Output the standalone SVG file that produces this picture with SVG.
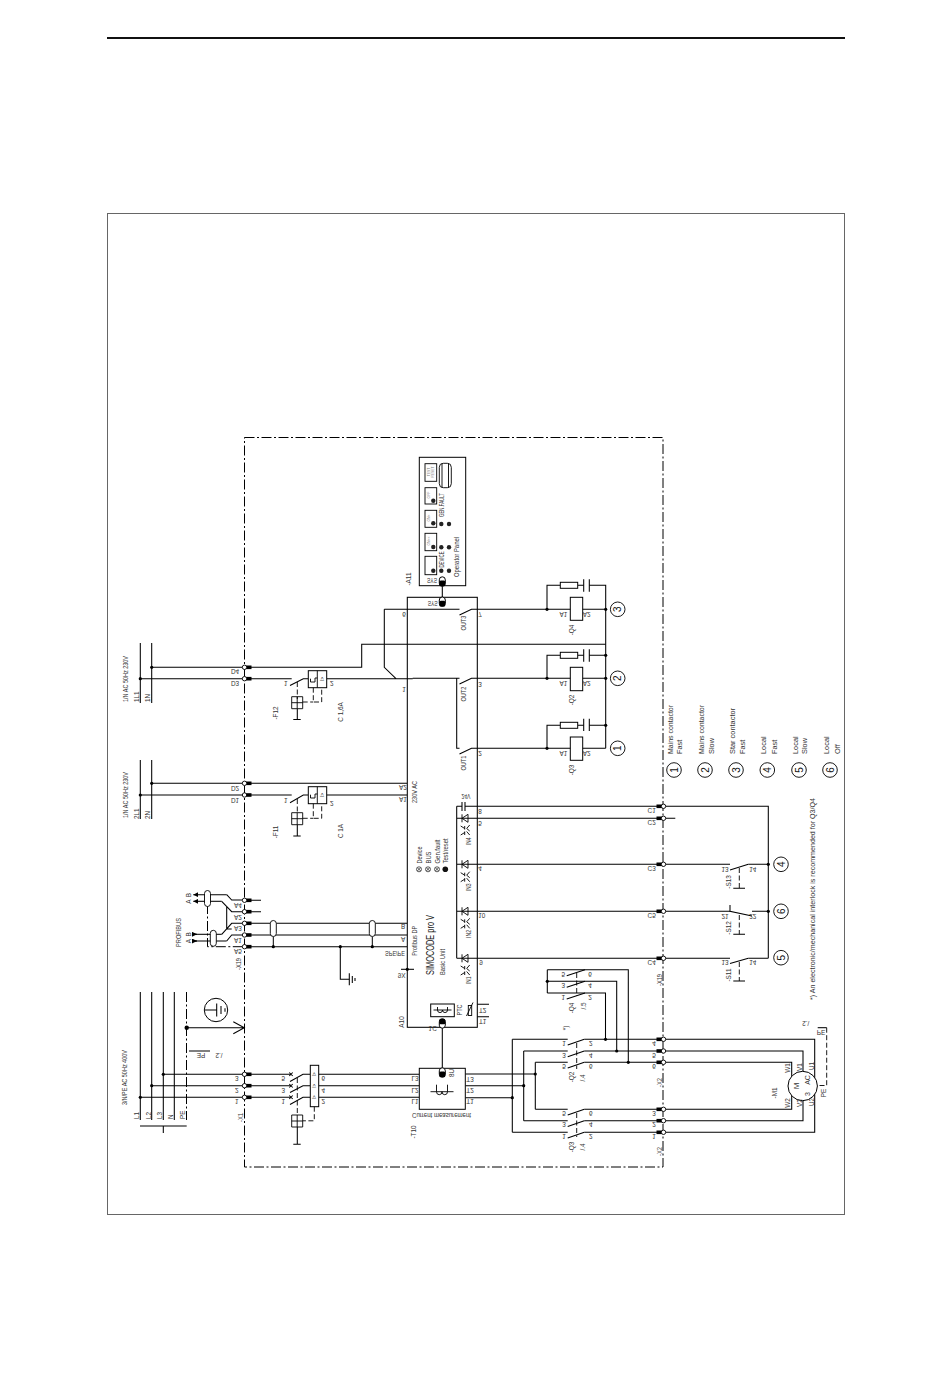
<svg xmlns="http://www.w3.org/2000/svg" width="950" height="1379" viewBox="0 0 950 1379">
<style>
.w{fill:none;stroke:#000;stroke-width:1.05}
.b{fill:#fff;stroke:#000;stroke-width:1}
.o{fill:none;stroke:#000;stroke-width:.9}
.d{fill:none;stroke:#000;stroke-width:.9;stroke-dasharray:5 2.5}
.dd{fill:none;stroke:#000;stroke-width:1;stroke-dasharray:10 2.5 2 2.5}
text{font-family:"Liberation Sans",Arial,sans-serif;font-size:6.4px;fill:#333;dominant-baseline:central}
.m{text-anchor:middle}
.l{font-size:7.4px}
.c{font-size:10px;text-anchor:middle;fill:#111}
.xs{font-size:3.4px;fill:#777}
</style>
<defs>
<g id="tl"><rect x="1" y="-1.8" width="6" height="3.6" fill="#000"/><circle r="2.2" fill="#fff" stroke="#000" stroke-width=".9"/></g>
<g id="tr"><rect x="-7" y="-1.8" width="6" height="3.6" fill="#000"/><circle r="2.2" fill="#fff" stroke="#000" stroke-width=".9"/></g>
<g id="pill"><rect x="-3" y="-4.7" width="6" height="9.4" rx="3" fill="#fff" stroke="#000"/><rect x="-3" y="-4.7" width="6" height="5.5" rx="1.5" fill="#000"/></g>
<g id="pilld"><rect x="-3" y="-4.7" width="6" height="9.4" rx="3" fill="#fff" stroke="#000"/><rect x="-3" y="-1" width="6" height="5.7" rx="1.5" fill="#000"/></g>
<circle id="dot" r="1.6" fill="#000"/>
<circle id="num" r="7.3" fill="#fff" stroke="#000" stroke-width=".9"/>
<path id="dio" d="M-3-4V4M-3 0 3-4V4Z" fill="none" stroke="#000" stroke-width=".9"/>
<path id="opto" d="M-5-4-1-1.5M-1-4V-.5M-5 5-1 2.5M-1 5V1.5M4-5 1-1.5 4 1M4 5 1 1.5" fill="none" stroke="#000" stroke-width=".9"/>
<path id="trf" d="M-11.5 0H11.5M-5.5-7V0M5.5-7V0M-5.5 0a2.75 3 0 0 0 5.5 0a2.75 3 0 0 0 5.5 0" fill="none" stroke="#000" stroke-width=".9"/>
<path id="trf2" d="M-9 0H9M-5-3V0M5-3V0M-5 0a2.5 2.6 0 0 0 5 0a2.5 2.6 0 0 0 5 0" fill="none" stroke="#000" stroke-width=".9"/>
<path id="trip" d="M0 0H11V12H0ZM5.5 0V12M0 6H11" fill="none" stroke="#000" stroke-width=".9"/>
<g id="shield"><rect x="-3" y="-8" width="6" height="16" rx="3" fill="#fff" stroke="#000" stroke-width=".9"/></g>
<marker id="ah" markerUnits="userSpaceOnUse" markerWidth="6" markerHeight="5" refX="5" refY="2.5" orient="auto"><path d="M0 0 5 2.5 0 5Z" fill="#000"/></marker>
</defs>
<rect width="950" height="1379" fill="#fff"/>
<g id="page-frame">
<path d="M107 38H845" stroke="#111" stroke-width="2" fill="none"/>
<rect x="107.500" y="213.500" width="737" height="1001" fill="none" stroke="#666" stroke-width="1"/>
<rect x="244.500" y="437.500" width="418.500" height="729.500" class="dd"/>
</g>
<g id="connectors">
<path class="w" d="M140.300 643V703M151.700 643V703M140.300 760V819M151.700 760V819M140.300 992V1120M151.700 992V1120M163.300 992V1120M174.300 992V1120M140 1126H186.700M163.300 1126V1133"/>
<path class="dd" d="M186.500 992V1120"/>
<path class="w" d="M151.700 667.300H361.700V644.300H605.700M140.300 678.700H291.700M326.700 678.700H412.700M384.300 609.300V667.300L396 678.700M384.300 609.300H459.500M477.300 609.300H605.700M412.700 678.300H459.500M477.300 678.300H605.700M456.700 678.300V748.300H459.500M477.300 748.300H605.700"/>
<path class="w" d="M547 609.300V585.300H560.300M577.700 585.300H583.700M589.300 585.300H605.700V748.300M547 678.300V655.300H560.300M577.700 655.300H583.700M589.300 655.300H605.700M547 748.300V725.300H560.300M577.700 725.300H583.700M589.300 725.300H605.700"/>
<path class="w" d="M151.700 783.300H407M140.300 795H291.700M326.700 795H407"/>
<path class="w" d="M250 900.300H261M250 911.700H261M250 923.300H407M250 935H407M250 946.700H407M340.300 946.700V979.300H349.300"/>
<path class="w" d="M226.700 894.700L231.700 900H243M221.700 901.300L231.700 911.700H243M221.700 934.300L231.700 923.300H243M226.700 941L231.700 935H243M226.700 906.500V929H231.700M226.700 906.500L231.700 911.700"/>
<path class="w" d="M226.700 894.700H193.300" marker-end="url(#ah)"/><path class="w" d="M221.700 901.300H193.300" marker-end="url(#ah)"/>
<path class="w" d="M193 934.300H221.700" /><path class="w" d="M193 941H226.700"/>
<path class="w" d="M193 934.300H197" marker-end="url(#ah)"/><path class="w" d="M193 941H197" marker-end="url(#ah)"/>
<path class="dd" d="M207.500 904V946.700H244M273.300 936.700V946.700M372.300 936.700V946.700"/>
<path class="w" d="M186.700 1027.700H244M233.300 1021.700 244.300 1027.700 233.300 1033.700M189 1051H210"/>
<path class="w" d="M163.300 1074.300H291M151.700 1085.700H291M140.300 1097.300H291M318.700 1074.300H419.300M318.700 1085.700H419.300M318.700 1097.300H419.300M442.300 586V597M442.300 1028V1068"/>
<path class="w" d="M465.300 1097.700H512.300M465.300 1085.700H523.700M465.300 1074H535.300M512.300 1039.300V1132.300M523.700 1051V1120.700M535.300 1062.300V1109.300"/>
<path class="w" d="M512.300 1039.300H567.700M523.700 1051H567.700M535.300 1062.300H567.700M535.300 1109.300H567.700M523.700 1120.700H567.700M512.300 1132.300H567.700M584.300 1039.300H814.700V1132.300H584.300M584.300 1051H803V1120.700H584.300M584.300 1062.300H791.700V1109.300H584.300"/>
<path class="w" d="M547.300 969.700V993M547.300 969.700H628.300V1062.300M547.300 981.300H616.700V1051M547.300 993H605.500V1039.300"/>
<path class="w" d="M477.300 806.300H768.300V958.300M477.300 818.300H675.300M477.300 864.300H730M477.300 911.300H730M477.300 958.300H730M748.300 864.300H768.300M752 911.300H768.300M748.300 958.300H768.300"/>
<path class="w" d="M456.700 806.300V958.300M456.700 806.300H462M465 806.300H477.300M456.700 818.300H477.300M456.700 864.300H477.300M456.700 911.300H477.300M456.700 958.300H477.300M477.300 1004.300H489M477.300 1016.700H489"/>
<path class="d" d="M826.700 1027.700V1085.500H817.500"/><path class="w" d="M817.700 1027.700H826.700"/>
</g>
<g id="terminals">
<use href="#tl" x="244.500" y="667.300"/><use href="#tl" x="244.500" y="678.700"/><use href="#tl" x="244.500" y="783.300"/><use href="#tl" x="244.500" y="795"/>
<use href="#tl" x="244.500" y="900.300"/><use href="#tl" x="244.500" y="911.700"/><use href="#tl" x="244.500" y="923.300"/><use href="#tl" x="244.500" y="935"/><use href="#tl" x="244.500" y="946.700"/>
<use href="#tl" x="244.500" y="1074.300"/><use href="#tl" x="244.500" y="1085.700"/><use href="#tl" x="244.500" y="1097.300"/>
<use href="#tr" x="663.500" y="806.300"/><use href="#tr" x="663.500" y="818.300"/><use href="#tr" x="663.500" y="864.300"/><use href="#tr" x="663.500" y="911.300"/><use href="#tr" x="663.500" y="958.300"/>
<use href="#tr" x="663.500" y="1039.300"/><use href="#tr" x="663.500" y="1051"/><use href="#tr" x="663.500" y="1062.300"/><use href="#tr" x="663.500" y="1109.300"/><use href="#tr" x="663.500" y="1120.700"/><use href="#tr" x="663.500" y="1132.300"/>
<text class="m" transform="translate(235 671.700) scale(1 -1)">D4</text><text class="m" transform="translate(235 683) scale(1 -1)">D3</text><text class="m" transform="translate(235 788) scale(1 -1)">D2</text><text class="m" transform="translate(235 800) scale(1 -1)">D1</text>
<text class="m" transform="translate(238 905) scale(1 -1)">A4</text><text class="m" transform="translate(238 917) scale(1 -1)">A2</text><text class="m" transform="translate(238 928.500) scale(1 -1)">A3</text><text class="m" transform="translate(238 940) scale(1 -1)">A1</text><text class="m" transform="translate(238 951.500) scale(1 -1)">A5</text>
<text transform="translate(238.500 970) rotate(-90)" textLength="12" lengthAdjust="spacingAndGlyphs">-X19</text>
<text class="m" transform="translate(236.700 1078.500) scale(1 -1)">3</text><text class="m" transform="translate(236.700 1090) scale(1 -1)">2</text><text class="m" transform="translate(236.700 1101.700) scale(1 -1)">1</text>
<text transform="translate(240 1122) rotate(-90)" textLength="9" lengthAdjust="spacingAndGlyphs">-X1</text>
<text class="m" transform="translate(651.700 810.700) scale(1 -1)">C1</text><text class="m" transform="translate(651.700 822.700) scale(1 -1)">C2</text><text class="m" transform="translate(651.700 868.700) scale(1 -1)">C3</text><text class="m" transform="translate(651.700 915.700) scale(1 -1)">C5</text><text class="m" transform="translate(651.700 962.700) scale(1 -1)">C4</text>
<text transform="translate(659.300 986) rotate(-90)" textLength="12" lengthAdjust="spacingAndGlyphs">-X19</text>
<text class="m" transform="translate(654 1043.300) scale(1 -1)">4</text><text class="m" transform="translate(654 1055) scale(1 -1)">5</text><text class="m" transform="translate(654 1066.700) scale(1 -1)">6</text><text class="m" transform="translate(654 1113.300) scale(1 -1)">3</text><text class="m" transform="translate(654 1124.700) scale(1 -1)">2</text><text class="m" transform="translate(654 1136.700) scale(1 -1)">1</text>
<text transform="translate(659 1087) rotate(-90)" textLength="9" lengthAdjust="spacingAndGlyphs">-X2</text><text transform="translate(659 1156) rotate(-90)" textLength="9" lengthAdjust="spacingAndGlyphs">-X2</text>
</g>
<g id="supply-labels">
<text transform="translate(125.700 702) rotate(-90)" textLength="46" lengthAdjust="spacingAndGlyphs">1/N AC 50Hz 230V</text><text transform="translate(136.700 702) rotate(-90)">1L1</text><text transform="translate(147.700 702) rotate(-90)">1N</text>
<text transform="translate(125.700 818) rotate(-90)" textLength="46" lengthAdjust="spacingAndGlyphs">1/N AC 50Hz 230V</text><text transform="translate(136.700 819) rotate(-90)">2L1</text><text transform="translate(147.700 819) rotate(-90)">2N</text>
<text transform="translate(124 1105) rotate(-90)" textLength="55" lengthAdjust="spacingAndGlyphs">3/N/PE AC 50Hz 400V</text>
<text transform="translate(136.700 1119) rotate(-90)">L1</text><text transform="translate(148 1119) rotate(-90)">L2</text><text transform="translate(159.700 1119) rotate(-90)">L3</text><text transform="translate(170.700 1119) rotate(-90)">N</text><text transform="translate(182.700 1119) rotate(-90)">PE</text>
<text class="m" transform="translate(201 1055) rotate(180)">PE</text><text class="m" transform="translate(219 1055.700) rotate(180)">/.2</text>
<text transform="translate(178.300 947) rotate(-90)" textLength="29" lengthAdjust="spacingAndGlyphs">PROFIBUS</text>
<text class="m" transform="translate(188.300 895) rotate(-90)">B</text><text class="m" transform="translate(188.300 901.500) rotate(-90)">A</text><text class="m" transform="translate(188.300 934.300) rotate(-90)">B</text><text class="m" transform="translate(188.300 941) rotate(-90)">A</text>
</g>
<g id="shields">
<use href="#shield" x="207.500" y="898.500"/><use href="#shield" x="213.300" y="938.300"/><use href="#shield" x="273.300" y="928.500"/><use href="#shield" x="372.300" y="928.500"/>
<use href="#dot" x="273.300" y="946.700"/><use href="#dot" x="372.300" y="946.700"/><use href="#dot" x="340.300" y="946.700"/>
</g>
<g id="earth-sym"><path class="w" d="M349.300 973.300V985.300M352.300 976V983M355 978V981"/></g>
<g id="pe-earth">
<circle cx="216" cy="1010" r="11.700" class="b"/>
<path class="w" d="M205 1010H216.500M216.700 1003.500V1016.500M221 1006V1014M225 1008.300V1011.700"/>
<circle cx="186.700" cy="1027.700" r="2.200" fill="#000"/>
</g>
<g id="bus-dots">
<use href="#dot" x="151.700" y="667.300"/><use href="#dot" x="140.300" y="678.700"/><use href="#dot" x="151.700" y="783.300"/><use href="#dot" x="140.300" y="795"/>
<use href="#dot" x="163.300" y="1074.300"/><use href="#dot" x="151.700" y="1085.700"/><use href="#dot" x="140.300" y="1097.300"/>
<use href="#dot" x="535.300" y="1074"/><use href="#dot" x="523.700" y="1085.700"/><use href="#dot" x="512.300" y="1097.700"/>
<use href="#dot" x="605.500" y="1039.300"/><use href="#dot" x="616.700" y="1051"/><use href="#dot" x="628.300" y="1062.300"/><use href="#dot" x="547.300" y="981.300"/>
<use href="#dot" x="547" y="609.300"/><use href="#dot" x="547" y="678.300"/><use href="#dot" x="547" y="748.300"/><use href="#dot" x="605.700" y="609.300"/><use href="#dot" x="605.700" y="678.300"/><use href="#dot" x="605.700" y="655.300"/><use href="#dot" x="605.700" y="725.300"/>
<use href="#dot" x="768.300" y="864.300"/><use href="#dot" x="768.300" y="911.300"/>
</g>
<g id="F12">
<path class="w" d="M290 685.500 303.300 678.700H308.300"/>
<rect x="308.300" y="670.700" width="18.400" height="17" class="b"/><path class="o" d="M317.300 670.700V687.700M310.500 678.700V682H315V678H317.300"/>
<text class="m" transform="translate(322 679) rotate(-90)" style="font-size:5px">I&gt;</text>
<path class="d" d="M297.300 682V699M313.300 687.700V702H321.700V687.700M302.700 702H313.300"/><use href="#trip" x="291.700" y="696.700"/><path class="w" d="M297.300 708.700V719.500M293.300 719.500H300.700"/>
<text class="m" transform="translate(285.700 683) scale(1 -1)">1</text><text class="m" transform="translate(331.700 683) scale(1 -1)">2</text>
<text class="m" transform="translate(275.700 713) rotate(-90)">-F12</text><text class="m" transform="translate(340 712) rotate(-90)">C 1,6A</text>
</g>
<g id="F11">
<path class="w" d="M290 802.700 303.300 795H308.300"/>
<rect x="308.300" y="786.700" width="18.400" height="17" class="b"/><path class="o" d="M317.300 786.700V803.700M310.500 794.700V798H315V794H317.300"/>
<text class="m" transform="translate(322 795) rotate(-90)" style="font-size:5px">I&gt;</text>
<path class="d" d="M297.300 799V813M313.300 803.700V818.300H321.700V803.700M302.700 818.300H313.300"/><use href="#trip" x="291.700" y="812.700"/><path class="w" d="M297.300 824.700V836M293.300 836H300.700"/>
<text class="m" transform="translate(285.700 800) scale(1 -1)">1</text><text class="m" transform="translate(331.700 803) scale(1 -1)">2</text>
<text class="m" transform="translate(275.700 832) rotate(-90)">-F11</text><text class="m" transform="translate(340 831) rotate(-90)">C 1A</text>
</g>
<g id="Q1">
<path class="w" d="M290 1081.500 303 1074.300H310M290 1092.500 303 1085.700H310M290 1104.500 303 1097.300H310M289.300 1072.500 292.700 1076M292.700 1072.500 289.300 1076M289.300 1084 292.700 1087.500M292.700 1084 289.300 1087.500M289.300 1095.500 292.700 1099M292.700 1095.500 289.300 1099"/>
<rect x="310.300" y="1065.300" width="8.400" height="41.400" class="b"/>
<text class="m" transform="translate(314.500 1074.300) rotate(-90)" style="font-size:4.500px">I&gt;</text><text class="m" transform="translate(314.500 1085.700) rotate(-90)" style="font-size:4.500px">I&gt;</text><text class="m" transform="translate(314.500 1097.300) rotate(-90)" style="font-size:4.500px">I&gt;</text>
<path class="d" d="M297.300 1078V1115M314.300 1106.700V1120.800H302.700"/><use href="#trip" x="291.700" y="1115"/><path class="w" d="M297.300 1127V1144.300M293.300 1144.300H300.700"/>
<text class="m" transform="translate(283.300 1078.300) scale(1 -1)">5</text><text class="m" transform="translate(283.300 1090) scale(1 -1)">3</text><text class="m" transform="translate(283.300 1101.700) scale(1 -1)">1</text>
<text class="m" transform="translate(323.300 1078.300) scale(1 -1)">6</text><text class="m" transform="translate(323.300 1090) scale(1 -1)">4</text><text class="m" transform="translate(323.300 1101.700) scale(1 -1)">2</text>
</g>
<g id="A10">
<rect x="407.300" y="597.300" width="70" height="430" fill="none" stroke="#000" stroke-width="1.050"/>
<use href="#pilld" x="442.300" y="601.700"/><use href="#pill" x="442.300" y="1023.500"/>
<text class="m" transform="translate(432.700 603.300) scale(1 -1)" textLength="10" lengthAdjust="spacingAndGlyphs">SYS</text>
<text class="m" transform="translate(404 614) scale(1 -1)">6</text><text class="m" transform="translate(480 614) scale(1 -1)">7</text>
<path class="w" d="M459.500 615 471.500 609.300H477.300M459.500 684 471.500 678.300H477.300M459.500 754 471.500 748.300H477.300"/>
<text class="m" transform="translate(404 689) scale(1 -1)">1</text><text class="m" transform="translate(480 684) scale(1 -1)">3</text><text class="m" transform="translate(480 753) scale(1 -1)">2</text>
<text class="m" transform="translate(463 623) rotate(-90)" textLength="15" lengthAdjust="spacingAndGlyphs">OUT3</text><text class="m" transform="translate(463 694) rotate(-90)" textLength="15" lengthAdjust="spacingAndGlyphs">OUT2</text><text class="m" transform="translate(463 763) rotate(-90)" textLength="15" lengthAdjust="spacingAndGlyphs">OUT1</text>
<text class="m" transform="translate(403 787.700) scale(1 -1)">A2</text><text class="m" transform="translate(403 799) scale(1 -1)">A1</text>
<text transform="translate(414 803) rotate(-90)" textLength="22" lengthAdjust="spacingAndGlyphs">230V AC</text>
<text class="m" transform="translate(466 796.700) scale(1 -1)" textLength="9" lengthAdjust="spacingAndGlyphs">24V</text>
<path class="w" d="M462 802V811M465 802V811"/>
<use href="#dio" x="465" y="818.300"/><use href="#dio" x="465" y="864.300"/><use href="#dio" x="465" y="911.300"/><use href="#dio" x="465" y="958.300"/>
<use href="#opto" x="465.700" y="830"/><use href="#opto" x="465.700" y="876.700"/><use href="#opto" x="465.700" y="923.300"/><use href="#opto" x="465.700" y="970"/>
<text class="m" transform="translate(468.300 841.500) rotate(-90)" textLength="8" lengthAdjust="spacingAndGlyphs">IN4</text><text class="m" transform="translate(468.300 887.500) rotate(-90)" textLength="8" lengthAdjust="spacingAndGlyphs">IN3</text><text class="m" transform="translate(468.300 934) rotate(-90)" textLength="8" lengthAdjust="spacingAndGlyphs">IN2</text><text class="m" transform="translate(468.300 980.500) rotate(-90)" textLength="8" lengthAdjust="spacingAndGlyphs">IN1</text>
<text class="m" transform="translate(480 811.700) scale(1 -1)">8</text><text class="m" transform="translate(480 823.300) scale(1 -1)">5</text><text class="m" transform="translate(480 868.300) scale(1 -1)">4</text><text class="m" transform="translate(481.700 915.700) scale(1 -1)">10</text><text class="m" transform="translate(481 962.700) scale(1 -1)">9</text>
<g fill="none" stroke="#333" stroke-width=".8"><circle cx="419" cy="869.300" r="2.500"/><path d="M417.300 867.600 420.700 871M420.700 867.600 417.300 871"/><circle cx="428" cy="869.300" r="2.500"/><path d="M426.300 867.600 429.700 871M429.700 867.600 426.300 871"/><circle cx="437" cy="869.300" r="2.500"/><path d="M435.300 867.600 438.700 871M438.700 867.600 435.300 871"/></g>
<circle cx="445.300" cy="869.300" r="2.800" fill="#111"/>
<text transform="translate(419 863.500) rotate(-90)" textLength="17" lengthAdjust="spacingAndGlyphs">Device</text><text transform="translate(428 863.500) rotate(-90)" textLength="12" lengthAdjust="spacingAndGlyphs">BUS</text><text transform="translate(437 863.500) rotate(-90)" textLength="24" lengthAdjust="spacingAndGlyphs">Gen.fault</text><text transform="translate(445.300 863.500) rotate(-90)" textLength="25" lengthAdjust="spacingAndGlyphs">Test/reset</text>
<text transform="translate(414 955.700) rotate(-90)" textLength="30" lengthAdjust="spacingAndGlyphs">Profibus DP</text>
<text transform="translate(430 975) rotate(-90)" style="font-size:10.500px;fill:#222" textLength="60" lengthAdjust="spacingAndGlyphs">SIMOCODE pro V</text>
<text transform="translate(442.300 975) rotate(-90)" textLength="26" lengthAdjust="spacingAndGlyphs">Basic Unit</text>
<text class="m" transform="translate(395 953) scale(1 -1)" textLength="20" lengthAdjust="spacingAndGlyphs">SPE/PE</text>
<text class="m" transform="translate(403 926.700) scale(1 -1)">B</text><text class="m" transform="translate(403 939) scale(1 -1)">A</text>
<path class="w" d="M401 969.300H414"/><use href="#dot" x="407.300" y="969.300"/>
<text class="m" transform="translate(401.700 975) scale(1 -1)">9X</text>
<text class="m" transform="translate(401 1022) rotate(-90)">A10</text>
<text class="m" transform="translate(432.700 1028) scale(1 -1)">1C</text>
<rect x="430.700" y="1004" width="23.600" height="12.700" class="b"/><use href="#trf2" x="442.500" y="1010"/>
<text class="m" transform="translate(459.300 1010) rotate(-90)" textLength="11" lengthAdjust="spacingAndGlyphs">PTC</text>
<rect x="468.300" y="1005.500" width="3.400" height="10" class="o"/><path class="o" d="M466.500 1016 473 1002.500"/>
<text class="m" transform="translate(482.700 1010) scale(1 -1)">T2</text><text class="m" transform="translate(482.700 1021) scale(1 -1)">T1</text>
</g>
<g id="A11">
<rect x="419.300" y="457.300" width="46.400" height="128.400" fill="none" stroke="#000"/>
<g class="o"><rect x="425" y="463.700" width="11.700" height="17.600"/><rect x="425" y="487.700" width="11.700" height="16.300"/><rect x="425" y="510.300" width="11.700" height="17"/><rect x="425" y="533.300" width="11.700" height="17.400"/><rect x="425" y="556.300" width="11.700" height="18.400"/>
<rect x="439.300" y="463.300" width="12" height="24.400" rx="4"/><path d="M442 463.300V487.700M448.500 463.300V487.700"/></g>
<text class="m xs" transform="translate(428.500 472) rotate(-90)">TEST</text><text class="m xs" transform="translate(433 472) rotate(-90)">RESET</text>
<text class="m xs" transform="translate(428.500 495) rotate(-90)">OFF</text><text class="m xs" transform="translate(428.500 518) rotate(-90)">ON&lt;</text><text class="m xs" transform="translate(428.500 541) rotate(-90)">ON&lt;&lt;</text>
<g fill="#222"><circle cx="433.300" cy="500.700" r="2.200"/><circle cx="433.300" cy="523.300" r="2.200"/><circle cx="441.300" cy="524" r="2.200"/><circle cx="449" cy="524" r="2.200"/><circle cx="433.300" cy="547" r="2.200"/><circle cx="441.300" cy="547.300" r="2.200"/><circle cx="449" cy="547.300" r="2.200"/><circle cx="433.300" cy="570.700" r="2.200"/><circle cx="441.300" cy="570.700" r="2.200"/><circle cx="449" cy="570.700" r="2.200"/></g>
<text transform="translate(441.300 517) rotate(-90)" textLength="24" lengthAdjust="spacingAndGlyphs">GEN.FAULT</text><text transform="translate(441.300 567.500) rotate(-90)" textLength="16" lengthAdjust="spacingAndGlyphs">DEVICE</text>
<text transform="translate(456.700 577) rotate(-90)" textLength="40" lengthAdjust="spacingAndGlyphs">Operator Panel</text>
<text class="m" transform="translate(432 580.700) scale(1 -1)" textLength="10" lengthAdjust="spacingAndGlyphs">SYS</text>
<use href="#pilld" x="442.300" y="581.500"/>
<text class="m" transform="translate(408 579) rotate(-90)">-A11</text>
</g>
<g id="Q4-coil"><rect x="560.300" y="582.300" width="17.400" height="6" class="b"/><path class="w" d="M583.700 579.300V591.700M589.300 579.300V591.700"/><rect x="570.300" y="597.300" width="12.400" height="23" class="b"/><text class="m" transform="translate(563.300 614) scale(1 -1)">A1</text><text class="m" transform="translate(586.700 614) scale(1 -1)">A2</text><text class="m" transform="translate(571 630) rotate(-90)">-Q4</text></g>
<g id="Q2-coil"><rect x="560.300" y="652.300" width="17.400" height="6" class="b"/><path class="w" d="M583.700 649.300V661.700M589.300 649.300V661.700"/><rect x="570.300" y="667.300" width="12.400" height="23.400" class="b"/><text class="m" transform="translate(563.300 683) scale(1 -1)">A1</text><text class="m" transform="translate(586.700 683) scale(1 -1)">A2</text><text class="m" transform="translate(571 700) rotate(-90)">-Q2</text></g>
<g id="Q3-coil"><rect x="560.300" y="722.300" width="17.400" height="6" class="b"/><path class="w" d="M583.700 718.700V731M589.300 718.700V731"/><rect x="570.300" y="737" width="12.400" height="23.300" class="b"/><text class="m" transform="translate(563.300 753) scale(1 -1)">A1</text><text class="m" transform="translate(586.700 753) scale(1 -1)">A2</text><text class="m" transform="translate(571 770) rotate(-90)">-Q3</text></g>
<g id="callouts">
<use href="#num" x="617.700" y="609.300"/><text class="c" transform="translate(617.700 609.300) rotate(-90)">3</text>
<use href="#num" x="617.700" y="678.300"/><text class="c" transform="translate(617.700 678.300) rotate(-90)">2</text>
<use href="#num" x="617.700" y="748.300"/><text class="c" transform="translate(617.700 748.300) rotate(-90)">1</text>
<use href="#num" x="781" y="864.300"/><text class="c" transform="translate(781 864.300) rotate(-90)">4</text>
<use href="#num" x="781" y="911.300"/><text class="c" transform="translate(781 911.300) rotate(-90)">6</text>
<use href="#num" x="781" y="957.700"/><text class="c" transform="translate(781 957.700) rotate(-90)">5</text>
</g>
<g id="legend">
<use href="#num" x="674" y="770"/><text class="c" transform="translate(674 770) rotate(-90)">1</text>
<use href="#num" x="705" y="770"/><text class="c" transform="translate(705 770) rotate(-90)">2</text>
<use href="#num" x="736" y="770"/><text class="c" transform="translate(736 770) rotate(-90)">3</text>
<use href="#num" x="767.300" y="770"/><text class="c" transform="translate(767.300 770) rotate(-90)">4</text>
<use href="#num" x="799" y="770"/><text class="c" transform="translate(799 770) rotate(-90)">5</text>
<use href="#num" x="830" y="770"/><text class="c" transform="translate(830 770) rotate(-90)">6</text>
<text class="l" transform="translate(670 754) rotate(-90)" textLength="49" lengthAdjust="spacingAndGlyphs">Mains contactor</text><text class="l" transform="translate(679.500 754) rotate(-90)">Fast</text>
<text class="l" transform="translate(701.700 754) rotate(-90)" textLength="49" lengthAdjust="spacingAndGlyphs">Mains contactor</text><text class="l" transform="translate(711 754) rotate(-90)">Slow</text>
<text class="l" transform="translate(732.700 754) rotate(-90)">Star contactor</text><text class="l" transform="translate(742.700 754) rotate(-90)">Fast</text>
<text class="l" transform="translate(763.300 754) rotate(-90)">Local</text><text class="l" transform="translate(774 754) rotate(-90)">Fast</text>
<text class="l" transform="translate(795 754) rotate(-90)">Local</text><text class="l" transform="translate(804.300 754) rotate(-90)">Slow</text>
<text class="l" transform="translate(826.700 754) rotate(-90)">Local</text><text class="l" transform="translate(837.300 754) rotate(-90)">Off</text>
<text class="l" transform="translate(812.300 1000) rotate(-90)" textLength="202" lengthAdjust="spacingAndGlyphs">*) An electronic/mechanical interlock is recommended for Q3/Q4</text>
</g>
<g id="S-switches">
<path class="w" d="M730 870 748.300 864.300M730 963.500 748.300 958.300M730 905V911.300L752 916"/>
<path class="d" d="M739.300 868V888.300M739.300 915V934.300M739.300 962V981"/>
<path class="w" d="M733.300 888.300H745M733.300 934.300H745M733.300 981H745"/>
<text class="m" transform="translate(725 869) scale(1 -1)">13</text><text class="m" transform="translate(752.700 869) scale(1 -1)">14</text>
<text class="m" transform="translate(725 916) scale(1 -1)">21</text><text class="m" transform="translate(752.700 916) scale(1 -1)">22</text>
<text class="m" transform="translate(725 962.500) scale(1 -1)">13</text><text class="m" transform="translate(752.700 962.500) scale(1 -1)">14</text>
<text class="m" transform="translate(728.300 882) rotate(-90)">-S13</text><text class="m" transform="translate(728.300 928) rotate(-90)">-S12</text><text class="m" transform="translate(728.300 975) rotate(-90)">-S11</text>
</g>
<g id="Q4-contacts">
<path class="w" d="M566.700 975.700 585 969.700M566.700 987.300 585 981.300M566.700 999 585 993"/><path class="d" d="M576.700 973V996"/>
<text class="m" transform="translate(563.300 974.300) scale(1 -1)">5</text><text class="m" transform="translate(563.300 985.700) scale(1 -1)">3</text><text class="m" transform="translate(563.300 997.300) scale(1 -1)">1</text>
<text class="m" transform="translate(590 974.300) scale(1 -1)">6</text><text class="m" transform="translate(590 985.700) scale(1 -1)">4</text><text class="m" transform="translate(590 997.300) scale(1 -1)">2</text>
<text class="m" transform="translate(571.700 1008) rotate(-90)">-Q4</text><text class="m" transform="translate(583 1006) rotate(-90)">/.5</text>
<text class="m" transform="translate(565.700 1028) rotate(-90)">*)</text>
</g>
<g id="Q2-contacts">
<path class="w" d="M567.700 1045 584.300 1039.300M567.700 1056.700 584.300 1051M567.700 1068 584.300 1062.300"/><path class="d" d="M576.700 1043V1069"/>
<text class="m" transform="translate(564 1043.700) scale(1 -1)">1</text><text class="m" transform="translate(564 1055) scale(1 -1)">3</text><text class="m" transform="translate(564 1066.700) scale(1 -1)">5</text>
<text class="m" transform="translate(590.700 1043.700) scale(1 -1)">2</text><text class="m" transform="translate(590.700 1055) scale(1 -1)">4</text><text class="m" transform="translate(590.700 1066.700) scale(1 -1)">6</text>
<text class="m" transform="translate(571.700 1077) rotate(-90)">-Q2</text><text class="m" transform="translate(582.300 1078) rotate(-90)">/.4</text>
</g>
<g id="Q3-contacts">
<path class="w" d="M567.700 1115 584.300 1109.300M567.700 1126.400 584.300 1120.700M567.700 1138 584.300 1132.300"/><path class="d" d="M576.700 1113V1137"/>
<text class="m" transform="translate(564 1113.300) scale(1 -1)">5</text><text class="m" transform="translate(564 1124.700) scale(1 -1)">3</text><text class="m" transform="translate(564 1136.700) scale(1 -1)">1</text>
<text class="m" transform="translate(590.700 1113.300) scale(1 -1)">6</text><text class="m" transform="translate(590.700 1124.700) scale(1 -1)">4</text><text class="m" transform="translate(590.700 1136.700) scale(1 -1)">2</text>
<text class="m" transform="translate(571.700 1147) rotate(-90)">-Q3</text><text class="m" transform="translate(582.300 1147) rotate(-90)">/.4</text>
</g>
<g id="T10">
<rect x="419.300" y="1068.300" width="46" height="41" class="b"/>
<use href="#pilld" x="442.300" y="1072.500"/>
<use href="#trf" x="442" y="1091.700"/>
<text class="m" transform="translate(415 1078) scale(1 -1)">L3</text><text class="m" transform="translate(415 1090) scale(1 -1)">L2</text><text class="m" transform="translate(415 1101.700) scale(1 -1)">L1</text>
<text class="m" transform="translate(451.700 1073) rotate(-90)">8U</text>
<text class="m" transform="translate(470 1079) scale(1 -1)">T3</text><text class="m" transform="translate(470 1090) scale(1 -1)">T2</text><text class="m" transform="translate(470 1101.700) scale(1 -1)">T1</text>
<text class="m" transform="translate(441.500 1115) scale(1 -1)" textLength="59" lengthAdjust="spacingAndGlyphs">Current measurement</text>
<text class="m" transform="translate(413 1132) rotate(-90)">-T10</text>
</g>
<g id="M1">
<circle cx="802.700" cy="1086" r="14.700" class="b"/>
<text class="m" transform="translate(796.700 1086) rotate(-90)" style="font-size:8px">M</text><text class="m" transform="translate(807.500 1094) rotate(-90)" style="font-size:7px">3</text><text class="m" transform="translate(807.500 1080) rotate(-90)" style="font-size:7px">AC</text>
<text class="m" transform="translate(811.700 1066) rotate(-90)">U1</text><text class="m" transform="translate(799 1067) rotate(-90)">V1</text><text class="m" transform="translate(787.300 1068) rotate(-90)">W1</text>
<text class="m" transform="translate(811.700 1102) rotate(-90)">U2</text><text class="m" transform="translate(799 1103) rotate(-90)">V2</text><text class="m" transform="translate(787.300 1103) rotate(-90)">W2</text>
<text class="m" transform="translate(774 1093) rotate(-90)">-M1</text>
<text class="m" transform="translate(821 1032) scale(1 -1)">PE</text><text class="m" transform="translate(823.300 1093) rotate(-90)">PE</text>
<text class="m" transform="translate(805.700 1023) rotate(180)">/.2</text>
</g>
</svg>
